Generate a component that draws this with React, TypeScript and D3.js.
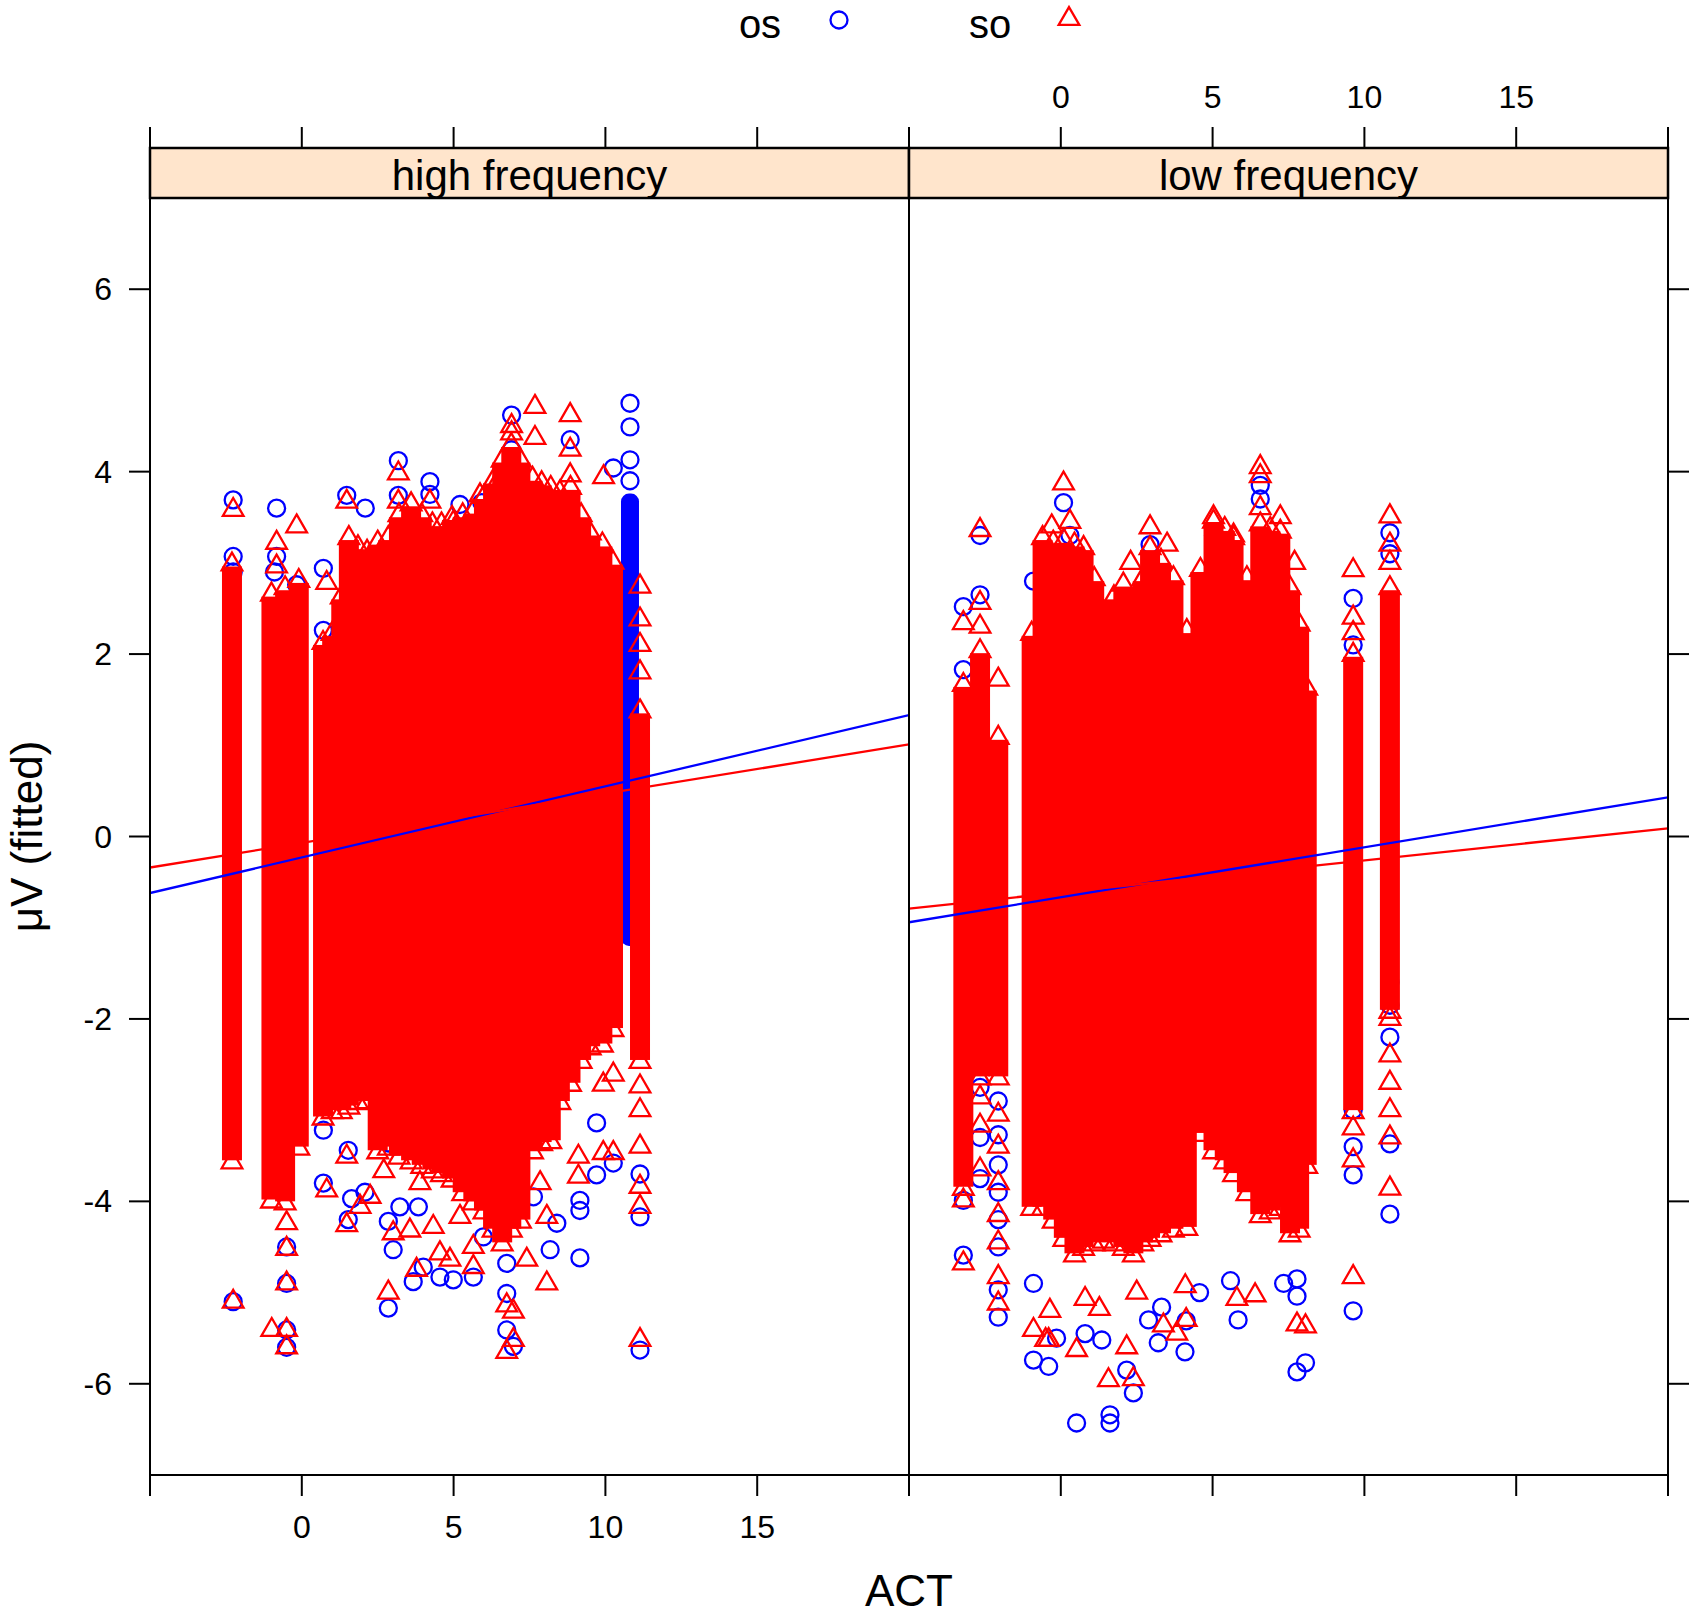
import React from 'react';
import * as d3 from 'd3';

type Pt = [number, number];
type Band = [number, number, number]; // ACT, top of dense run, bottom of dense run

const groups = ['os', 'so'];
const panelNames = ['high frequency', 'low frequency'];
const xTickValues = [-5, 0, 5, 10, 15, 20];
const xTickLabels = [0, 5, 10, 15];
const yTickValues = [-6, -4, -2, 0, 2, 4, 6];

// ---- high frequency panel ----
const hfSoBands: Band[] = [
  [-2.3, 2.96, -3.55], [-1.0, 2.63, -3.98], [-0.55, 2.7, -4.0], [-0.1, 2.78, -3.4],
  [0.7, 2.1, -3.07], [1.0, 2.2, -3.0], [1.3, 2.6, -3.0], [1.55, 3.25, -2.95],
  [1.85, 3.15, -2.9], [2.15, 3.1, -2.89], [2.5, 3.2, -3.44], [2.85, 3.25, -3.4],
  [3.2, 3.5, -3.5], [3.6, 3.62, -3.55], [3.95, 3.5, -3.6], [4.3, 3.4, -3.65],
  [4.6, 3.4, -3.69], [4.95, 3.47, -3.75], [5.3, 3.5, -3.9], [5.65, 3.54, -4.0],
  [6.0, 3.7, -4.1], [6.3, 3.87, -4.3], [6.6, 4.1, -4.45], [6.9, 4.27, -4.3],
  [7.2, 4.1, -4.2], [7.6, 3.9, -3.44], [7.9, 3.85, -3.35], [8.2, 3.8, -3.33],
  [8.5, 3.75, -2.9], [8.85, 3.8, -2.7], [9.2, 3.5, -2.45], [9.5, 3.3, -2.3],
  [9.9, 3.18, -2.27], [10.25, 2.98, -2.1], [11.14, 1.35, -2.45],
];
const hfOsBands: Band[] = [[10.81, 3.76, -1.2]];
const hfOsPoints: Pt[] = [
  [-2.26, 3.69], [-2.26, 3.07], [-2.26, 2.9], [-0.83, 3.6], [-0.83, 3.07], [-0.9, 2.9],
  [-0.17, 2.76], [0.71, 2.94], [0.71, 2.26], [1.48, 3.74], [2.09, 3.6], [3.18, 4.12],
  [3.18, 3.74], [4.22, 3.89], [4.22, 3.75], [5.21, 3.64], [5.93, 3.66], [6.91, 4.62],
  [6.91, 4.24], [8.84, 4.35], [10.26, 4.04], [10.81, 4.75], [10.81, 4.49], [10.81, 4.13],
  [10.81, 3.9],
  [0.71, -3.22], [0.71, -3.8], [1.53, -3.44], [1.53, -4.2], [1.64, -3.97], [2.08, -3.9],
  [2.85, -3.36], [2.85, -4.22], [2.85, -5.17], [3.01, -4.53], [3.23, -4.06], [3.67, -4.88],
  [3.84, -4.06], [4.0, -4.72], [4.55, -4.83], [4.99, -4.86], [5.65, -4.83], [5.98, -4.39],
  [6.75, -4.68], [6.75, -5.01], [6.75, -5.41], [6.97, -5.59], [7.63, -3.95], [8.18, -4.53],
  [8.4, -4.24], [9.16, -4.62], [9.16, -3.99], [9.16, -4.1], [9.71, -3.71], [10.26, -3.58],
  [9.71, -3.14], [11.14, -3.7], [11.14, -4.17], [11.14, -5.63], [-2.26, -5.1], [-0.5, -5.41],
  [-0.5, -5.6], [-0.5, -4.9], [-0.5, -4.5],
];
const hfSoPoints: Pt[] = [
  [-2.26, 3.58], [-0.83, 3.22], [-0.83, 2.96], [-0.17, 3.4], [0.82, 2.78], [1.48, 3.67],
  [2.58, 3.03], [3.18, 3.98], [3.18, 3.67], [4.22, 3.67], [4.99, 3.44], [5.87, 3.74],
  [6.42, 3.87], [6.91, 4.5], [6.91, 4.42], [7.68, 4.71], [7.68, 4.37], [8.84, 4.62],
  [8.84, 4.24], [8.84, 3.96], [9.94, 3.94], [11.14, 2.74], [11.14, 2.38], [11.14, 2.1],
  [11.14, 1.8],
  [-2.26, -5.1], [-0.99, -5.41], [-0.5, -5.6], [-0.5, -5.41], [-0.5, -4.9], [-0.5, -4.52],
  [-0.5, -4.24], [0.82, -3.88], [1.48, -3.51], [1.48, -4.26], [1.92, -4.06], [2.25, -3.95],
  [2.85, -5.0], [2.7, -3.67], [3.01, -4.35], [3.56, -4.32], [3.78, -4.75], [3.89, -3.8],
  [4.33, -4.28], [4.55, -4.57], [4.88, -4.64], [5.21, -4.17], [5.65, -4.72], [5.65, -4.5],
  [6.75, -5.14], [6.97, -5.21], [6.75, -5.65], [6.97, -5.52], [7.41, -4.64], [7.85, -3.8],
  [8.07, -4.9], [8.07, -4.17], [9.11, -3.51], [9.11, -3.73], [9.93, -3.47], [10.26, -3.47],
  [11.14, -2.74], [11.14, -3.0], [11.14, -3.4], [11.14, -3.84], [11.14, -4.06], [11.14, -5.52],
  [10.26, -2.61], [9.93, -2.72],
];
const hfFitOs = [-0.62, 1.33]; // fitted values at ACT -5 and 20
const hfFitSo = [-0.34, 1.01];

// ---- low frequency panel ----
const lfSoBands: Band[] = [
  [-3.21, 1.64, -3.84], [-2.66, 2.01, -2.63], [-2.06, 1.06, -2.63],
  [-0.96, 2.2, -4.06], [-0.6, 3.25, -4.06], [-0.25, 3.2, -4.2], [0.1, 3.22, -4.4],
  [0.45, 3.18, -4.57], [0.75, 3.14, -4.5], [1.1, 2.8, -4.45], [1.4, 2.41, -4.42],
  [1.75, 2.6, -4.45], [2.06, 2.74, -4.5], [2.39, 2.3, -4.57], [2.7, 2.8, -4.45],
  [2.94, 3.14, -4.4], [3.3, 3.0, -4.35], [3.71, 2.81, -4.3], [4.15, 2.23, -4.28],
  [4.6, 2.9, -3.25], [5.03, 3.43, -3.44], [5.4, 3.35, -3.55], [5.69, 3.25, -3.69],
  [6.13, 2.81, -3.9], [6.57, 3.4, -4.14], [6.9, 3.35, -4.1], [7.23, 3.32, -4.06],
  [7.55, 2.7, -4.35], [7.85, 2.3, -4.3], [8.1, 1.6, -3.6],
  [9.63, 1.97, -3.0], [10.84, 2.7, -1.9],
];
const lfOsBands: Band[] = [];
const lfOsPoints: Pt[] = [
  [-3.21, 2.52], [-3.21, 1.83], [-2.66, 3.3], [-2.66, 2.65], [-0.9, 2.8], [-0.6, 3.0],
  [0.09, 3.66], [0.3, 3.3], [2.94, 3.2], [5.03, 3.3], [6.57, 3.85], [6.57, 3.7],
  [9.63, 2.61], [9.63, 2.1], [10.84, 3.33], [10.84, 3.1],
  [-3.21, -3.99], [-3.21, -4.59], [-2.66, -2.75], [-2.66, -3.3], [-2.66, -3.75],
  [-2.06, -2.9], [-2.06, -3.27], [-2.06, -3.6], [-2.06, -3.9], [-2.06, -4.2], [-2.06, -4.5],
  [-2.06, -4.97], [-2.06, -5.27],
  [-0.9, -5.74], [-0.4, -5.81], [-0.14, -5.5], [-0.9, -4.9], [0.52, -6.43], [1.62, -6.34],
  [1.62, -6.43], [2.17, -5.85], [2.39, -6.1], [0.8, -5.45], [1.35, -5.52], [2.89, -5.3],
  [3.32, -5.16], [3.21, -5.55], [4.09, -5.65], [4.13, -5.31], [4.57, -5.0], [5.84, -5.3],
  [5.59, -4.87], [7.34, -4.9], [7.78, -5.04], [7.78, -5.87], [8.06, -5.77], [7.78, -4.85],
  [9.63, -3.0], [9.63, -3.4], [9.63, -3.71], [9.63, -5.2], [10.84, -1.6], [10.84, -1.85],
  [10.84, -2.2], [10.84, -3.37], [10.84, -4.14],
];
const lfSoPoints: Pt[] = [
  [-3.21, 2.34], [-2.66, 3.36], [-2.66, 2.56], [-2.66, 2.3], [-2.06, 1.72], [0.09, 3.87],
  [-0.3, 3.4], [0.3, 3.45], [2.94, 3.39], [2.3, 3.0], [3.5, 3.2], [5.03, 3.5], [5.69, 3.3],
  [6.57, 4.05], [6.57, 3.95], [6.57, 3.6], [7.23, 3.5], [7.7, 3.0], [9.63, 2.92], [9.63, 2.4],
  [9.63, 2.23], [10.84, 3.51], [10.84, 3.2], [10.84, 3.0],
  [-3.21, -3.99], [-3.21, -4.68], [-2.66, -2.86], [-2.66, -3.17], [-2.66, -3.65],
  [-2.06, -3.05], [-2.06, -3.4], [-2.06, -3.8], [-2.06, -4.15], [-2.06, -4.45], [-2.06, -4.83],
  [-2.06, -5.12],
  [-0.9, -5.41], [-0.4, -5.52], [0.52, -5.63], [2.17, -5.6], [1.57, -5.96], [2.39, -5.95],
  [3.38, -5.36], [3.82, -5.45], [0.8, -5.07], [1.27, -5.18], [2.5, -5.0], [4.13, -5.3],
  [4.1, -4.93], [5.8, -5.07], [6.4, -5.03], [7.78, -5.35], [8.06, -5.37], [-0.36, -5.2],
  [-0.5, -5.52],
  [9.63, -3.2], [9.63, -3.55], [9.63, -4.83], [10.84, -2.0], [10.84, -2.4], [10.84, -2.7],
  [10.84, -3.0], [10.84, -3.3], [10.84, -3.86],
];
const lfFitOs = [-0.94, 0.43];
const lfFitSo = [-0.79, 0.09];

const panels = [
  { name: panelNames[0], osBands: hfOsBands, soBands: hfSoBands, os: hfOsPoints, so: hfSoPoints, fitOs: hfFitOs, fitSo: hfFitSo },
  { name: panelNames[1], osBands: lfOsBands, soBands: lfSoBands, os: lfOsPoints, so: lfSoPoints, fitOs: lfFitOs, fitSo: lfFitSo },
];

const width = 1697;
const height = 1619;
const plotLeft = 150;
const panelWidth = 759;
const plotTop = 198;
const plotBottom = 1475;
const stripTop = 148;
const blue = '#0000FF';
const red = '#FF0000';
const font = '"Liberation Sans", Arial, Helvetica, sans-serif';
const tri = d3.symbol().type(d3.symbolTriangle).size(185)();

const yScale = d3.scaleLinear().domain([-7, 7]).range([plotBottom, plotTop]);

const Circle = ({ x, y }: { x: number; y: number }) => (
  <circle cx={x} cy={y} r={8.5} fill="none" stroke={blue} strokeWidth={2.3} />
);
const Tri = ({ x, y, fill = 'none' }: { x: number; y: number; fill?: string }) => (
  <path d={tri!} transform={`translate(${x},${y})`} fill={fill} stroke={red} strokeWidth={2.3} />
);

const Panel = ({ p, i }: { p: typeof panels[0]; i: number }) => {
  const x0 = plotLeft + i * panelWidth;
  const xScale = d3.scaleLinear().domain([-5, 20]).range([x0, x0 + panelWidth]);
  const line = d3.line<number>().x((_, k) => xScale(k === 0 ? -5 : 20)).y(d => yScale(d));
  const half = 10;
  return (
    <g>
      <defs>
        <clipPath id={`clip${i}`}>
          <rect x={x0} y={plotTop} width={panelWidth} height={plotBottom - plotTop} />
        </clipPath>
      </defs>
      {/* strip */}
      <rect x={x0} y={stripTop} width={panelWidth} height={plotTop - stripTop} fill="#FFE5CC" stroke="#000" strokeWidth={2.5} />
      <text x={x0 + panelWidth / 2} y={(stripTop + plotTop) / 2 + 2} textAnchor="middle" dominantBaseline="central" fontSize={42} fontFamily={font}>{p.name}</text>
      <g clipPath={`url(#clip${i})`}>
        {/* os group */}
        {p.osBands.map(([a, hi, lo], k) => (
          <rect key={`ob${k}`} x={xScale(a) - 9} y={yScale(hi)} width={18} height={yScale(lo) - yScale(hi)} rx={8} fill={blue} />
        ))}
        {p.os.map(([a, v], k) => <Circle key={`o${k}`} x={xScale(a)} y={yScale(v)} />)}
        {/* so group */}
        {p.soBands.map(([a, hi, lo], k) => (
          <rect key={`sb${k}`} x={xScale(a) - half} y={yScale(hi)} width={half * 2} height={yScale(lo) - yScale(hi)} fill={red} />
        ))}
        {p.soBands.map(([a, hi, lo], k) => (
          <g key={`sc${k}`}>
            <Tri x={xScale(a)} y={yScale(hi) - 2} />
            <Tri x={xScale(a)} y={yScale(lo) + 2} />
          </g>
        ))}
        {p.so.map(([a, v], k) => <Tri key={`s${k}`} x={xScale(a)} y={yScale(v)} />)}
        <path d={line(p.fitOs)!} stroke={blue} strokeWidth={2.3} fill="none" />
        <path d={line(p.fitSo)!} stroke={red} strokeWidth={2.3} fill="none" />
      </g>
      <rect x={x0} y={plotTop} width={panelWidth} height={plotBottom - plotTop} fill="none" stroke="#000" strokeWidth={2} />
      {/* top ticks */}
      {xTickValues.map(v => (
        <line key={`tt${v}`} x1={xScale(v)} x2={xScale(v)} y1={stripTop} y2={stripTop - 21} stroke="#000" strokeWidth={2} />
      ))}
      {/* bottom ticks */}
      {xTickValues.map(v => (
        <line key={`bt${v}`} x1={xScale(v)} x2={xScale(v)} y1={plotBottom} y2={plotBottom + 21} stroke="#000" strokeWidth={2} />
      ))}
      {i === 0 && xTickLabels.map(v => (
        <text key={`bl${v}`} x={xScale(v)} y={1527} textAnchor="middle" dominantBaseline="central" fontSize={32} fontFamily={font}>{v}</text>
      ))}
      {i === 1 && xTickLabels.map(v => (
        <text key={`tl${v}`} x={xScale(v)} y={97} textAnchor="middle" dominantBaseline="central" fontSize={32} fontFamily={font}>{v}</text>
      ))}
      {i === 0 && yTickValues.map(v => (
        <g key={`yl${v}`}>
          <line x1={x0 - 21} x2={x0} y1={yScale(v)} y2={yScale(v)} stroke="#000" strokeWidth={2} />
          <text x={x0 - 38} y={yScale(v)} textAnchor="end" dominantBaseline="central" fontSize={32} fontFamily={font}>{v}</text>
        </g>
      ))}
      {i === 1 && yTickValues.map(v => (
        <line key={`yr${v}`} x1={x0 + panelWidth} x2={x0 + panelWidth + 21} y1={yScale(v)} y2={yScale(v)} stroke="#000" strokeWidth={2} />
      ))}
    </g>
  );
};

export default function App() {
  return (
    <svg width={width} height={height} style={{ position: 'absolute', left: 0, top: 0, background: '#fff' }}>
      <rect width={width} height={height} fill="#fff" />
      {/* legend */}
      <text x={760} y={24} textAnchor="middle" dominantBaseline="central" fontSize={40} fontFamily={font}>{groups[0]}</text>
      <Circle x={839} y={20} />
      <text x={990} y={24} textAnchor="middle" dominantBaseline="central" fontSize={40} fontFamily={font}>{groups[1]}</text>
      <Tri x={1069} y={19} />
      {panels.map((p, i) => <Panel key={p.name} p={p} i={i} />)}
      <text x={909} y={1590} textAnchor="middle" dominantBaseline="central" fontSize={44} fontFamily={font}>ACT</text>
      <text transform={`translate(26, ${(plotTop + plotBottom) / 2}) rotate(-90)`} textAnchor="middle" dominantBaseline="central" fontSize={44} fontFamily={font}>μV (fitted)</text>
    </svg>
  );
}
